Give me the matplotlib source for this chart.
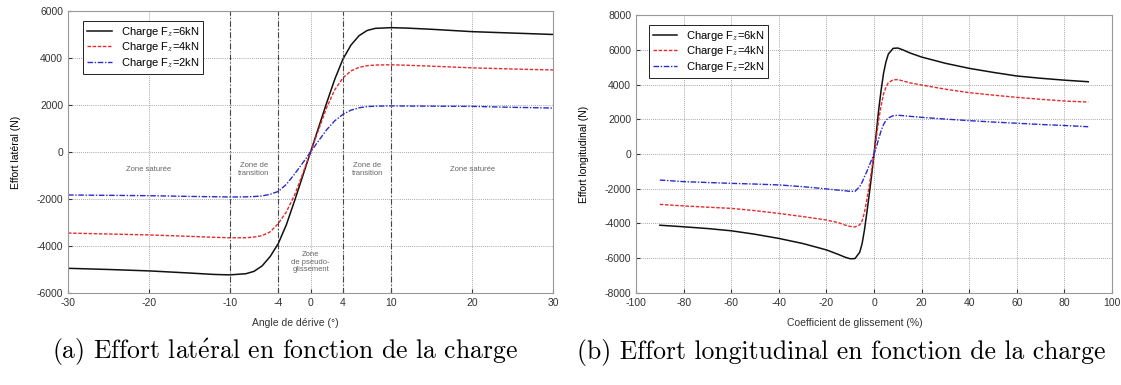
import matplotlib
matplotlib.use('Agg')
import matplotlib.pyplot as plt

plt.rcParams['font.family'] = ['Liberation Sans', 'DejaVu Sans']
plt.rcParams['mathtext.fontset'] = 'cm'
plt.rcParams['axes.unicode_minus'] = False

# %% data, lateral force vs slip angle
angle = [-30, -25, -20, -15, -12, -10, -8, -7, -6, -5, -4, -3, -2, -1, 0,
         1, 2, 3, 4, 5, 6, 7, 8, 10, 12, 15, 20, 25, 30]
fy_6kN = [-4950, -5000, -5060, -5150, -5210, -5230, -5180, -5080, -4850,
          -4450, -3900, -3100, -2100, -1050, 0, 1050, 2100, 3100, 3950,
          4550, 4950, 5170, 5260, 5290, 5270, 5220, 5120, 5060, 5000]
fy_4kN = [-3450, -3490, -3530, -3590, -3630, -3650, -3650, -3620, -3560,
          -3400, -3050, -2550, -1850, -950, 0, 950, 1900, 2650, 3150, 3450,
          3600, 3670, 3700, 3710, 3690, 3650, 3580, 3530, 3490]
fy_2kN = [-1830, -1845, -1860, -1890, -1905, -1915, -1910, -1895, -1870,
          -1800, -1680, -1380, -950, -480, 0, 480, 950, 1330, 1600, 1780,
          1880, 1930, 1950, 1960, 1955, 1950, 1940, 1900, 1870]

# %% data, longitudinal force vs slip ratio
slip = [-90, -80, -70, -60, -50, -40, -30, -20, -15, -12, -10, -8, -6, -5,
        -4, -3, -2, -1, 0, 1, 2, 3, 4, 5, 6, 8, 10, 12, 15, 20, 30, 40, 50,
        60, 70, 80, 90]
fx_6kN = [-4100, -4190, -4290, -4420, -4620, -4860, -5150, -5520, -5780,
          -5950, -6030, -6020, -5650, -5150, -4350, -3350, -2300, -1200, 0,
          1300, 2600, 3700, 4650, 5300, 5750, 6080, 6100, 6000, 5820, 5580,
          5220, 4930, 4700, 4490, 4360, 4250, 4160]
fx_4kN = [-2900, -2990, -3060, -3130, -3260, -3420, -3600, -3800, -3950,
          -4100, -4170, -4200, -4080, -3850, -3350, -2600, -1800, -900, 0,
          1000, 2000, 2800, 3450, 3850, 4100, 4270, 4280, 4210, 4100, 3970,
          3730, 3530, 3390, 3260, 3150, 3050, 2990]
fx_2kN = [-1500, -1590, -1640, -1690, -1730, -1780, -1880, -2010, -2080,
          -2120, -2150, -2150, -1870, -1620, -1300, -1000, -650, -330, 0,
          400, 900, 1350, 1700, 1930, 2080, 2200, 2230, 2210, 2170, 2110,
          2010, 1920, 1840, 1770, 1700, 1640, 1570]

labels = ['Charge F$_z$=6kN', 'Charge F$_z$=4kN', 'Charge F$_z$=2kN']
angle_ticks = [-30, -20, -10, -4, 0, 4, 10, 20, 30]
zone_lines = [-10, -4, 4, 10]

styles = [dict(color='#111111', ls='-', lw=1.1),
          dict(color='#e8282a', ls=(0, (2.5, 1.2)), lw=1.0),
          dict(color='#2a2ad0', ls=(0, (4, 1.2, 1, 1.2)), lw=1.0)]

fig = plt.figure(figsize=(11.21, 3.85), dpi=100)
ax1 = fig.add_axes([0.0607, 0.239, 0.4327, 0.7325])
ax2 = fig.add_axes([0.5674, 0.239, 0.4246, 0.722])


def style_axes(ax):
    ax.grid(True, ls=(0, (1, 1.5)), color='#8a8a8a', lw=0.6)
    ax.tick_params(direction='in', labelsize=7.5, length=3, colors='#333333')
    for s in ax.spines.values():
        s.set_color('#999999')
        s.set_linewidth(0.8)


# %% left plot
for y, lab, st in zip([fy_6kN, fy_4kN, fy_2kN], labels, styles):
    ax1.plot(angle, y, label=lab, **st)
for xv in zone_lines:
    ax1.axvline(xv, color='#444444', ls=(0, (5, 2, 1, 2)), lw=0.8)
ax1.set_xlim(-30, 30)
ax1.set_ylim(-6000, 6000)
ax1.set_xticks(angle_ticks)
ax1.set_yticks(range(-6000, 6001, 2000))
style_axes(ax1)
ax1.set_ylabel('Effort latéral (N)', fontsize=7.5, labelpad=11)

zt = dict(fontsize=5.5, color='#666666', ha='center', va='center',
          linespacing=1.1)
ax1.text(-20, -750, 'Zone saturée', **zt)
ax1.text(-7, -750, 'Zone de\ntransition', **zt)
ax1.text(7, -750, 'Zone de\ntransition', **zt)
ax1.text(20, -750, 'Zone saturée', **zt)
ax1.text(0, -4700, 'Zone\nde pseudo-\nglissement', **zt)

leg1 = ax1.legend(loc='upper left', bbox_to_anchor=(0.02, 0.985), fontsize=8,
                  handlelength=2.2, borderpad=0.35, labelspacing=0.15,
                  fancybox=False, edgecolor='#222222', framealpha=1)
leg1.get_frame().set_linewidth(0.7)

# %% right plot
for y, lab, st in zip([fx_6kN, fx_4kN, fx_2kN], labels, styles):
    ax2.plot(slip, y, label=lab, **st)
ax2.set_xlim(-100, 100)
ax2.set_ylim(-8000, 8000)
ax2.set_xticks(range(-100, 101, 20))
ax2.set_yticks(range(-8000, 8001, 2000))
style_axes(ax2)
ax2.set_ylabel('Effort longitudinal (N)', fontsize=7.5, labelpad=11)

leg2 = ax2.legend(loc='upper left', bbox_to_anchor=(0.015, 0.985), fontsize=8,
                  handlelength=2.2, borderpad=0.35, labelspacing=0.15,
                  fancybox=False, edgecolor='#222222', framealpha=1)
leg2.get_frame().set_linewidth(0.7)

# axis labels and captions
fig.text(295 / 1121, 1 - 323 / 385, 'Angle de dérive (°)', fontsize=7.5,
         ha='center', va='center', color='#333333')
fig.text(855 / 1121, 1 - 323 / 385, 'Coefficient de glissement (%)',
         fontsize=7.5, ha='center', va='center', color='#333333')
fig.text(285 / 1121, 1 - 352 / 385,
         r'(a) Effort lat$\acute{\mathrm{e}}$ral en fonction de la charge',
         fontsize=18.5, ha='center', va='center', family='cmr10')
fig.text(841 / 1121, 1 - 352 / 385,
         '(b) Effort longitudinal en fonction de la charge',
         fontsize=18.5, ha='center', va='center', family='cmr10')

fig.savefig('out.png', dpi=100, facecolor='white')
